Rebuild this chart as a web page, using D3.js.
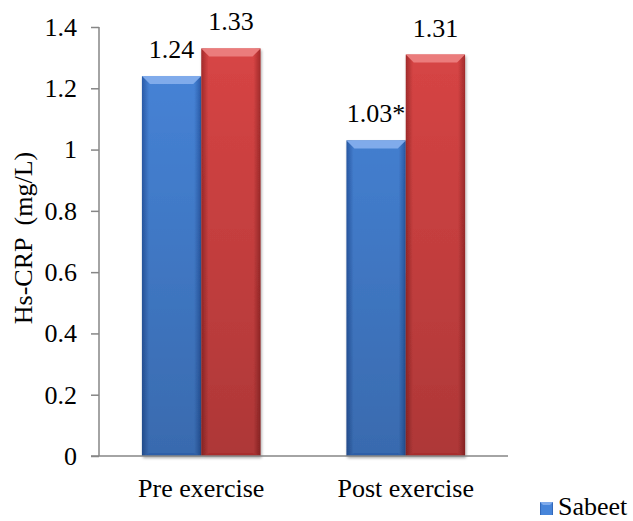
<!DOCTYPE html>
<html><head><meta charset="utf-8">
<script src="https://cdn.jsdelivr.net/npm/d3@7"></script>
<style>body{margin:0;background:#fff}svg{display:block}</style>
</head><body><svg id="c" width="633" height="521"></svg>
<script>
const categories = ["Pre exercise", "Post exercise"];
const seriesNames = ["Sabeet", "Control"];
const sabeetValues = [1.24, 1.03];
const controlValues = [1.33, 1.31];
const valueLabels = [["1.24", "1.33"], ["1.03*", "1.31"]];
const yTicks = [0, 0.2, 0.4, 0.6, 0.8, 1, 1.2, 1.4];
const yTitle = "Hs-CRP  (mg/L)";

const FONT = "'Liberation Serif', 'Times New Roman', 'DejaVu Serif', serif";
const svg = d3.select("#c");
const fs = 26;
const y = d3.scaleLinear().domain([0, 1.4]).range([456, 27]);
const x0 = d3.scaleBand().domain(categories).range([99, 508]).paddingInner(0.42).paddingOuter(0.21);
const x1 = d3.scaleBand().domain(seriesNames).range([0, x0.bandwidth()]);

const defs = svg.append("defs");
const pal = {Sabeet: {main: "#4785da", dark: "#2a5cab", light: "#80abeb", bot: "#2d5ea8"},
             Control: {main: "#d94545", dark: "#a32b2b", light: "#eb7c7c", bot: "#a82f2f"}};
seriesNames.forEach((s, i) => {
  const g = defs.append("linearGradient").attr("id", "g" + i).attr("x1", 0).attr("x2", 1).attr("y1", 0).attr("y2", 0);
  g.append("stop").attr("offset", 0).attr("stop-color", pal[s].dark);
  g.append("stop").attr("offset", 0.12).attr("stop-color", pal[s].main);
  g.append("stop").attr("offset", 0.88).attr("stop-color", pal[s].main);
  g.append("stop").attr("offset", 1).attr("stop-color", pal[s].dark);
});
const vg = defs.append("linearGradient").attr("id", "vshade").attr("gradientUnits", "userSpaceOnUse")
  .attr("x1", 0).attr("x2", 0).attr("y1", y(1.4)).attr("y2", y(0));
vg.append("stop").attr("offset", 0).attr("stop-color", "#000").attr("stop-opacity", 0);
vg.append("stop").attr("offset", 1).attr("stop-color", "#000").attr("stop-opacity", 0.2);

const f = defs.append("filter").attr("id", "sh").attr("x", "-20%").attr("y", "-20%").attr("width", "140%").attr("height", "140%");
f.append("feGaussianBlur").attr("in", "SourceAlpha").attr("stdDeviation", 1.5);
f.append("feOffset").attr("dx", 1).attr("dy", 1.5).attr("result", "b");
f.append("feComponentTransfer").append("feFuncA").attr("type", "linear").attr("slope", 0.35);
const m = f.append("feMerge"); m.append("feMergeNode"); m.append("feMergeNode").attr("in", "SourceGraphic");

// axes
const yAxis = d3.axisLeft(y).tickValues(yTicks).tickSize(8).tickPadding(14).tickFormat(d => String(d));
const ga = svg.append("g").attr("transform", "translate(99,0)").call(yAxis);
ga.attr("font-family", null).attr("font-size", null);
ga.select(".domain").attr("stroke", "#868686").attr("stroke-width", 1.5).attr("d", `M0,${y(1.4)}V${y(0)}`);
ga.selectAll(".tick line").attr("stroke", "#868686").attr("stroke-width", 1.5);
ga.selectAll(".tick text").style("font-family", FONT).style("font-size", fs + "px").attr("fill", "#000");

svg.append("text").attr("transform", `translate(32,238) rotate(-90)`).attr("text-anchor", "middle")
  .style("font-family", FONT).style("font-size", fs + "px").style("white-space", "pre").text(yTitle);

const data = categories.map((c, i) => ({c, vals: [sabeetValues[i], controlValues[i]]}));
const groups = svg.selectAll("g.grp").data(data).join("g").attr("class", "grp")
  .attr("transform", d => `translate(${x0(d.c)},0)`);
groups.each(function(d, ci) {
  const g = d3.select(this);
  d.vals.forEach((v, si) => {
    const s = seriesNames[si];
    const bx = x1(s), bw = x1.bandwidth(), top = y(v), bot = y(0), b = 8;
    const bar = g.append("g").attr("filter", "url(#sh)");
    bar.append("rect").attr("x", bx).attr("y", top).attr("width", bw).attr("height", bot - top).attr("fill", `url(#g${si})`);
    bar.append("rect").attr("x", bx).attr("y", top).attr("width", bw).attr("height", bot - top).attr("fill", "url(#vshade)");
    bar.append("path").attr("d", `M${bx},${top}H${bx + bw}L${bx + bw - b},${top + b}H${bx + b}Z`).attr("fill", pal[s].light);
    bar.append("path").attr("d", `M${bx},${bot}H${bx + bw}L${bx + bw - b},${bot - 3}H${bx + b}Z`).attr("fill", pal[s].bot);
    g.append("text").attr("x", bx + bw / 2).attr("y", top - 18).attr("text-anchor", "middle")
      .style("font-family", FONT).style("font-size", fs + "px").text(valueLabels[ci][si]);
  });
});

svg.append("line").attr("x1", 91).attr("x2", 508).attr("y1", y(0)).attr("y2", y(0)).attr("stroke", "#868686").attr("stroke-width", 1.5);

svg.selectAll("text.cat").data(categories).join("text").attr("class", "cat")
  .attr("x", d => x0(d) + x0.bandwidth() / 2).attr("y", 497).attr("text-anchor", "middle")
  .style("font-family", FONT).style("font-size", fs + "px").text(d => d);

// legend (only first entry visible in frame)
const lg = svg.append("g").attr("transform", "translate(540,502)");
lg.append("rect").attr("width", 13).attr("height", 13).attr("fill", "url(#g0)");
lg.append("path").attr("d", "M0,0H13L10,3H3Z").attr("fill", pal.Sabeet.light);
lg.append("text").attr("x", 18).attr("y", 13).style("font-family", FONT).style("font-size", fs + "px").text(seriesNames[0]);
</script></body></html>
